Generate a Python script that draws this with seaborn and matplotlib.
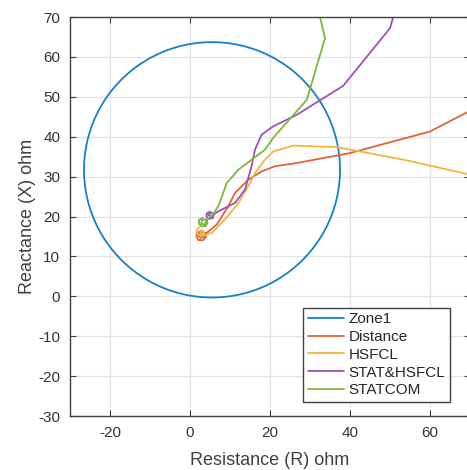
import numpy as np
import pandas as pd
import matplotlib
matplotlib.use("Agg")
import matplotlib.pyplot as plt
import seaborn as sns

# Zone1 mho circle (center, radius)
zone_center = (5.5, 31.7)
zone_radius = 32.0

# Trajectories (R, X) in ohm
dist_r = [2.8, 1.75, 1.6, 2.1, 3.2, 4.0, 3.8, 2.9, 2.0, 2.6, 3.5, 3.75, 6.7, 9.6, 11.25, 14.6, 17.9, 21.25, 26.7, 40.0, 60.0, 70.0]
dist_x = [16.4, 15.8, 15.0, 14.1, 14.05, 14.9, 15.9, 16.2, 15.4, 14.6, 15.0, 15.5, 18.0, 22.6, 25.9, 29.25, 31.3, 32.6, 33.4, 35.9, 41.3, 46.5]

hsf_r = [2.3, 1.6, 2.0, 3.0, 3.6, 3.0, 2.6, 3.6, 5.4, 8.75, 12.1, 14.6, 16.25, 18.75, 20.8, 25.8, 36.7, 53.3, 70.0]
hsf_x = [17.3, 16.4, 15.5, 15.2, 15.8, 16.6, 15.9, 15.3, 15.9, 19.25, 23.4, 27.6, 30.9, 34.25, 36.3, 37.75, 37.4, 34.25, 30.5]

sh_r = [5.0, 4.2, 4.1, 4.8, 5.7, 5.9, 5.3, 4.6, 5.3, 6.0, 7.1, 11.25, 13.75, 15.4, 16.25, 17.9, 20.8, 26.7, 38.3, 50.0, 50.8]
sh_x = [21.2, 20.8, 20.0, 19.4, 19.6, 20.4, 21.0, 20.4, 19.9, 20.6, 21.3, 23.4, 26.75, 32.6, 36.75, 40.5, 42.6, 45.5, 52.75, 67.2, 70.0]

stc_r = [3.3, 2.3, 2.2, 2.9, 3.9, 4.4, 4.0, 3.0, 2.8, 3.7, 4.2, 5.4, 7.1, 9.2, 12.1, 15.4, 18.75, 20.8, 29.2, 33.75, 32.5]
stc_x = [19.7, 19.2, 18.2, 17.5, 17.6, 18.4, 19.3, 19.1, 18.2, 18.0, 19.2, 20.1, 22.6, 28.4, 31.75, 34.25, 36.75, 39.7, 49.25, 64.7, 70.0]

names = ["Zone1", "Distance", "HSFCL", "STAT&HSFCL", "STATCOM"]
colors = ["#1580D0", "#E0643A", "#F2B63C", "#9C52BE", "#7DB83A"]

t = np.linspace(0, 2 * np.pi, 361)
circ_r = zone_center[0] + zone_radius * np.cos(t)
circ_x = zone_center[1] + zone_radius * np.sin(t)

frames = []
for nm, rr, xx in [("Zone1", circ_r, circ_x), ("Distance", dist_r, dist_x),
                   ("HSFCL", hsf_r, hsf_x), ("STAT&HSFCL", sh_r, sh_x),
                   ("STATCOM", stc_r, stc_x)]:
    frames.append(pd.DataFrame({"R": rr, "X": xx, "series": nm}))
df = pd.concat(frames, ignore_index=True)

sns.set_style("white")
plt.rcParams["font.family"] = ["Liberation Sans", "DejaVu Sans"]
plt.rcParams["axes.unicode_minus"] = False

fig = plt.figure(figsize=(4.67, 4.70), dpi=100)
ax = fig.add_axes([70 / 467, 54 / 470, 400 / 467, 399 / 470])

for nm, col in zip(names, colors):
    sub = df[df["series"] == nm]
    sns.lineplot(data=sub, x="R", y="X", sort=False, estimator=None,
                 color=col, lw=1.3, label=nm, ax=ax)

ax.set_xlim(-30, 70)
ax.set_ylim(-30, 70)
ax.set_xticks([-20, 0, 20, 40, 60])
ax.set_yticks(np.arange(-30, 71, 10))
ax.grid(True, color="#e3e3e3", lw=0.9)
ax.set_axisbelow(True)
ax.tick_params(direction="in", length=4, width=0.8, color="#404040",
               labelsize=11, labelcolor="#333333", top=True, right=True,
               bottom=True, left=True, pad=7)
for s in ax.spines.values():
    s.set_color("#404040")
    s.set_linewidth(1.0)
ax.set_xlabel("Resistance (R) ohm", fontsize=13, color="#404040", labelpad=9)
ax.set_ylabel("Reactance (X) ohm", fontsize=13, color="#404040", labelpad=2)

leg = ax.legend(loc="lower left", bbox_to_anchor=(303 / 467, (470 - 402) / 470),
                bbox_transform=fig.transFigure, fontsize=11, frameon=True,
                fancybox=False, edgecolor="#404040", framealpha=1,
                handlelength=2.4, handletextpad=0.3, labelspacing=0.25,
                borderpad=0.3, borderaxespad=0)
leg.get_frame().set_linewidth(1.0)

fig.savefig("out.png", dpi=100)
